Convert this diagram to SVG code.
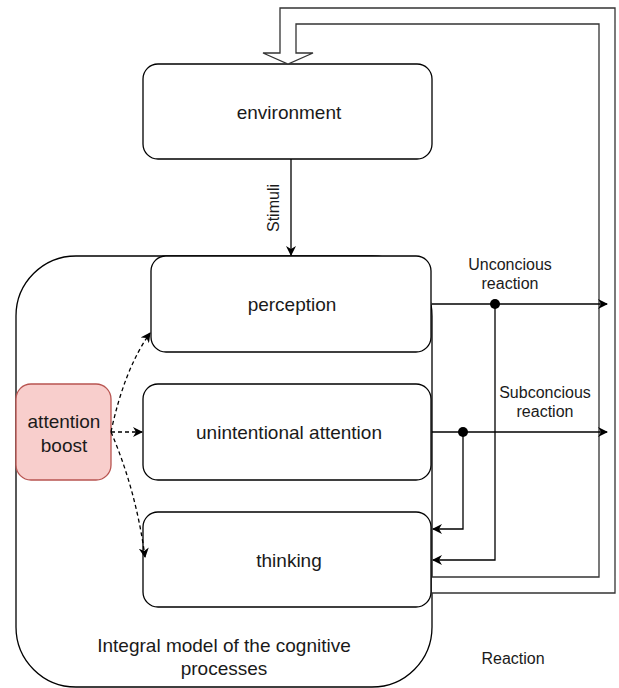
<svg xmlns="http://www.w3.org/2000/svg" width="619" height="688" viewBox="0 0 619 688">
<defs>
<style>
.box{fill:#fff;stroke:#000;stroke-width:1.3}
.t{font-family:"Liberation Sans",Arial,sans-serif;font-size:19px;fill:#1a1a1a;text-anchor:middle}
.s{font-family:"Liberation Sans",Arial,sans-serif;font-size:16px;fill:#1a1a1a;text-anchor:middle}
.ln{fill:none;stroke:#000;stroke-width:1.3}
.dl{fill:none;stroke:#000;stroke-width:1.3;stroke-dasharray:4 3}
</style>
<marker id="ah" viewBox="0 0 10 10" refX="9" refY="5" markerWidth="10" markerHeight="10" markerUnits="userSpaceOnUse" orient="auto">
<path d="M0,0 L10,5 L0,10 L3,5 Z" fill="#000"/>
</marker>
</defs>
<rect width="619" height="688" fill="#fff"/>
<g id="container">
<rect x="16" y="256" width="416" height="431" rx="60" ry="60" class="box"/>
<text x="224" y="652" class="t">Integral model of the cognitive</text>
<text x="224" y="675" class="t">processes</text>
</g>
<g id="environment">
<rect x="143" y="64" width="289" height="95" rx="15" class="box"/>
<text x="289" y="119" class="t">environment</text>
</g>
<g id="perception">
<rect x="151" y="256" width="280" height="96" rx="15" class="box"/>
<text x="292" y="311" class="t">perception</text>
</g>
<g id="unintentional">
<rect x="143" y="384" width="288" height="96" rx="15" class="box"/>
<text x="289" y="439" class="t">unintentional attention</text>
</g>
<g id="thinking">
<rect x="143" y="512" width="288" height="95" rx="15" class="box"/>
<text x="289" y="567" class="t">thinking</text>
</g>
<g id="attention-boost">
<rect x="16" y="384" width="95" height="96" rx="15" fill="#f8cecc" stroke="#b85450" stroke-width="1.3"/>
<text x="64" y="428" class="t">attention</text>
<text x="64" y="452" class="t">boost</text>
</g>
<g id="connectors">
<path d="M432,593 H615 V8 H280 V53 H263 L288,64 L313,53 H296 V24 H599 V577 H432" fill="#fff" stroke="#333" stroke-width="1.3"/>
<line x1="291" y1="159" x2="291" y2="255" class="ln" marker-end="url(#ah)"/>
<text x="279" y="208" class="s" transform="rotate(-90 279 208)">Stimuli</text>
<line x1="432" y1="304" x2="607" y2="304" class="ln" marker-end="url(#ah)"/>
<line x1="432" y1="432" x2="607" y2="432" class="ln" marker-end="url(#ah)"/>
<path d="M495,304 V560 H433" class="ln" marker-end="url(#ah)"/>
<path d="M463,432 V529 H433" class="ln" marker-end="url(#ah)"/>
<circle cx="495" cy="304" r="5" fill="#000"/>
<circle cx="463" cy="432" r="5" fill="#000"/>
<path d="M111,432 Q124,370 150,333" class="dl" marker-end="url(#ah)"/>
<line x1="111" y1="432" x2="142" y2="432" class="dl" marker-end="url(#ah)"/>
<path d="M111,432 Q136,490 145,557" class="dl" marker-end="url(#ah)"/>
<text x="510" y="270" class="s">Unconcious</text>
<text x="510" y="289" class="s">reaction</text>
<text x="545" y="398" class="s">Subconcious</text>
<text x="545" y="417" class="s">reaction</text>
<text x="513" y="664" class="s">Reaction</text>
</g>
</svg>
